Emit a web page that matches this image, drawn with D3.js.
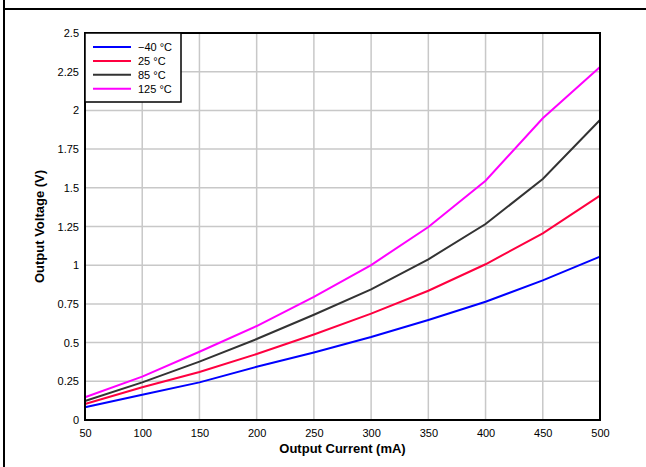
<!DOCTYPE html>
<html><head><meta charset="utf-8">
<script src="https://cdn.jsdelivr.net/npm/d3@7"></script>
<style>body{margin:0;background:#fff}svg{display:block}text{font-family:"Liberation Sans",Arial,sans-serif}</style>
</head><body>
<script>
const currents = [50,100,150,200,250,300,350,400,450,500];
const vM40 = [0.082,0.163,0.243,0.344,0.436,0.536,0.646,0.764,0.902,1.055];
const v25  = [0.103,0.211,0.310,0.426,0.552,0.687,0.835,1.006,1.206,1.449];
const v85  = [0.123,0.243,0.377,0.523,0.680,0.844,1.038,1.266,1.557,1.938];
const v125 = [0.147,0.280,0.441,0.607,0.795,1.001,1.247,1.546,1.949,2.280];
const seriesNames = ["\u221240 \u00B0C","25 \u00B0C","85 \u00B0C","125 \u00B0C"];
const seriesColors = ["#0000ff","#ff0040","#333333","#ff00ff"];
const xTicks = [50,100,150,200,250,300,350,400,450,500];
const yTicks = [0,0.25,0.5,0.75,1,1.25,1.5,1.75,2,2.25,2.5];
const yTickLabels = ["0","0.25","0.5","0.75","1","1.25","1.5","1.75","2","2.25","2.5"];

const W=646,H=467;
const svg=d3.select("body").append("svg").attr("width",W).attr("height",H);
// outer frame
svg.append("line").attr("x1",4).attr("x2",4).attr("y1",0).attr("y2",H).attr("stroke","#000").attr("stroke-width",2);
svg.append("line").attr("x1",4).attr("x2",W).attr("y1",9).attr("y2",9).attr("stroke","#000").attr("stroke-width",2);

const L=85,R=600,T=33,B=420;
const x=d3.scaleLinear().domain([50,500]).range([L,R]);
const y=d3.scaleLinear().domain([0,2.5]).range([B,T]);

// grid
svg.append("g").selectAll("line").data(xTicks.slice(1,-1)).join("line")
  .attr("x1",d=>x(d)).attr("x2",d=>x(d)).attr("y1",T).attr("y2",B)
  .attr("stroke","#c8c8c8").attr("stroke-width",1.5);
svg.append("g").selectAll("line").data(yTicks.slice(1,-1)).join("line")
  .attr("y1",d=>y(d)).attr("y2",d=>y(d)).attr("x1",L).attr("x2",R)
  .attr("stroke","#c8c8c8").attr("stroke-width",1.5);

// axes labels
const xAxis=d3.axisBottom(x).tickValues(xTicks).tickSize(0).tickPadding(9).tickFormat(d3.format("d"));
const gx=svg.append("g").attr("transform",`translate(0,${B})`).call(xAxis);
gx.select(".domain").remove();
gx.selectAll("text").attr("font-size",11).attr("fill","#000").attr("font-family","Liberation Sans, Arial, sans-serif");
const yAxis=d3.axisLeft(y).tickValues(yTicks).tickSize(0).tickPadding(6).tickFormat((d,i)=>yTickLabels[i]);
const gy=svg.append("g").attr("transform",`translate(${L},0)`).call(yAxis);
gy.select(".domain").remove();
gy.selectAll("text").attr("font-size",11).attr("fill","#000").attr("font-family","Liberation Sans, Arial, sans-serif");

// lines
const allSeries=[vM40,v25,v85,v125];
const line=d3.line().x((d,i)=>x(currents[i])).y(d=>y(d));
svg.append("g").selectAll("path").data(allSeries).join("path")
  .attr("d",line).attr("fill","none").attr("stroke",(d,i)=>seriesColors[i]).attr("stroke-width",2);

// plot frame
svg.append("rect").attr("x",L).attr("y",T).attr("width",R-L).attr("height",B-T)
  .attr("fill","none").attr("stroke","#000").attr("stroke-width",2);

// legend
const lg=svg.append("g");
lg.append("rect").attr("x",L).attr("y",T).attr("width",96).attr("height",69)
  .attr("fill","#fff").attr("stroke","#000").attr("stroke-width",1.5);
seriesNames.forEach((n,i)=>{
  const yy=T+14+i*13.9;
  lg.append("line").attr("x1",93).attr("x2",131).attr("y1",yy).attr("y2",yy)
    .attr("stroke",seriesColors[i]).attr("stroke-width",2);
  lg.append("text").attr("x",138).attr("y",yy+4).attr("font-size",11).attr("fill","#000").text(n);
});

// titles
svg.append("text").attr("x",(L+R)/2).attr("y",453).attr("text-anchor","middle")
  .attr("font-size",13).attr("font-weight","bold").text("Output Current (mA)");
svg.append("text").attr("transform",`translate(44,${(T+B)/2}) rotate(-90)`).attr("text-anchor","middle")
  .attr("font-size",13).attr("font-weight","bold").text("Output Voltage (V)");
</script>
</body></html>
